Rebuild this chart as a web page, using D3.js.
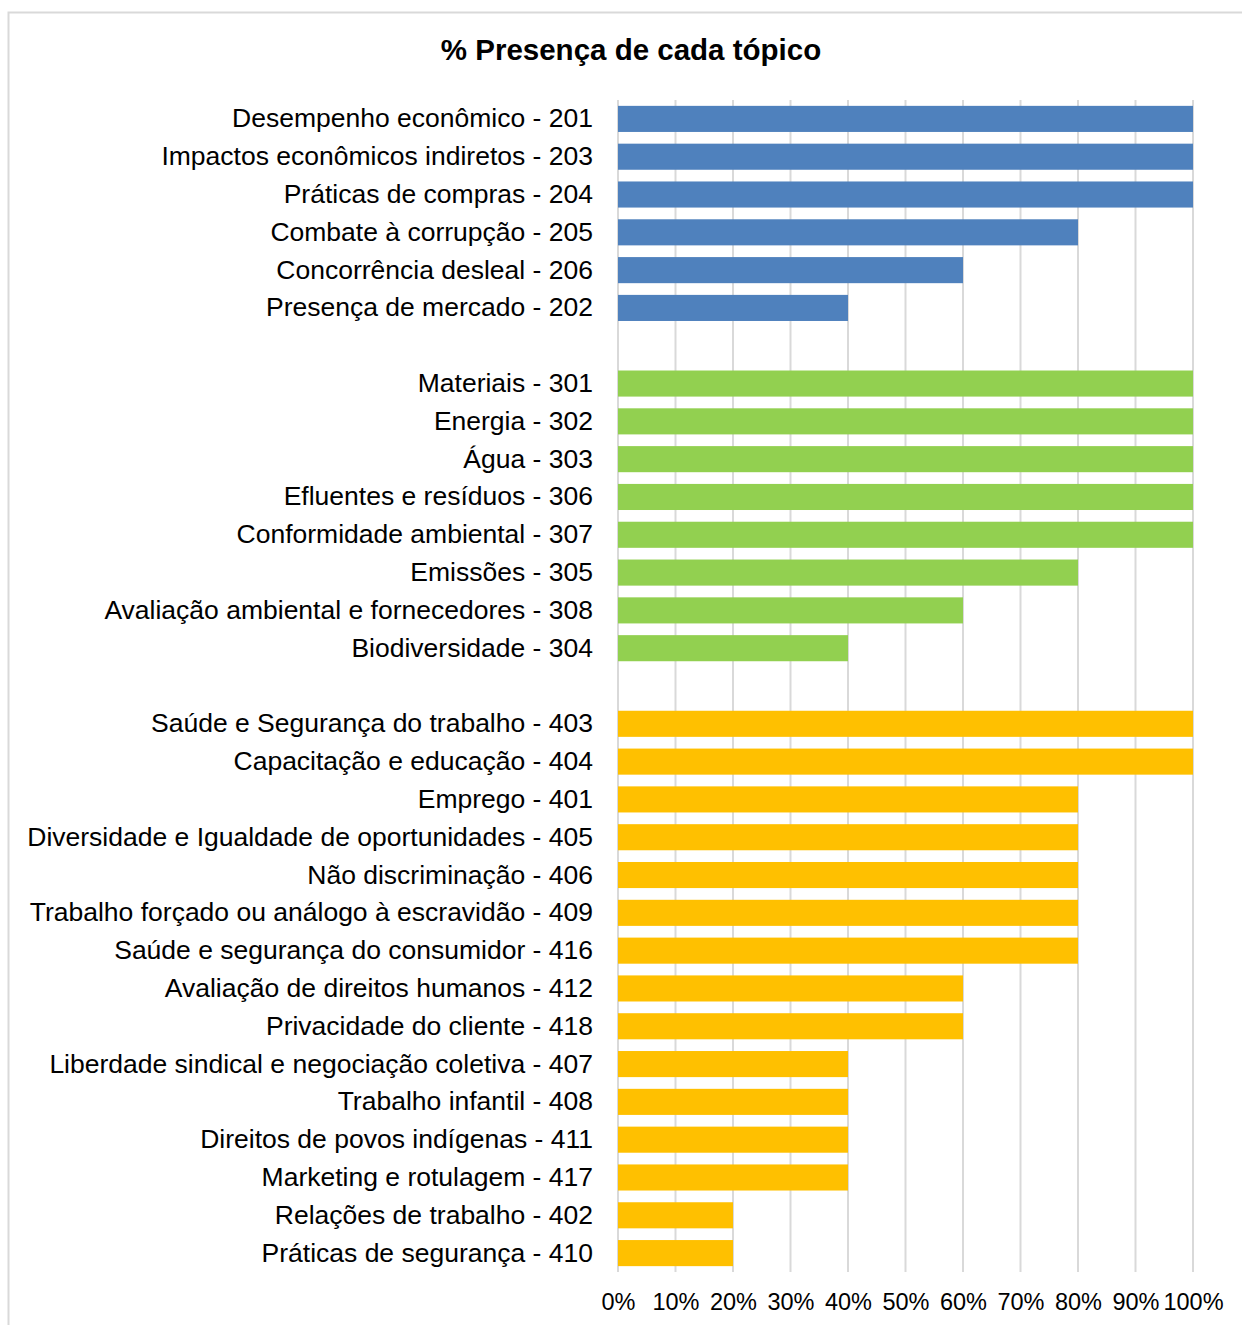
<!DOCTYPE html>
<html>
<head>
<meta charset="utf-8">
<script src="https://cdn.jsdelivr.net/npm/d3@7"></script>
<style>
  body { margin: 0; background: #fff; }
  text { font-family: "Liberation Sans", Arial, sans-serif; fill: #000; }
</style>
</head>
<body>
<div id="container"></div>
<script>
var svgWidth = 1242;
var svgHeight = 1325;

// dados
var economicLabels = ['Desempenho econômico - 201', 'Impactos econômicos indiretos - 203', 'Práticas de compras - 204',
    'Combate à corrupção - 205', 'Concorrência desleal - 206', 'Presença de mercado - 202'];
var economicValues = [100, 100, 100, 80, 60, 40];

var environmentLabels = ['Materiais - 301', 'Energia - 302', 'Água - 303', 'Efluentes e resíduos - 306',
    'Conformidade ambiental - 307', 'Emissões - 305', 'Avaliação ambiental e fornecedores - 308', 'Biodiversidade - 304'];
var environmentValues = [100, 100, 100, 100, 100, 80, 60, 40];

var socialLabels = ['Saúde e Segurança do trabalho - 403', 'Capacitação e educação - 404', 'Emprego - 401',
    'Diversidade e Igualdade de oportunidades - 405', 'Não discriminação - 406', 'Trabalho forçado ou análogo à escravidão - 409',
    'Saúde e segurança do consumidor - 416', 'Avaliação de direitos humanos - 412', 'Privacidade do cliente - 418',
    'Liberdade sindical e negociação coletiva - 407', 'Trabalho infantil - 408', 'Direitos de povos indígenas - 411',
    'Marketing e rotulagem - 417', 'Relações de trabalho - 402', 'Práticas de segurança - 410'];
var socialValues = [100, 100, 80, 80, 80, 80, 80, 60, 60, 40, 40, 40, 40, 20, 20];

var xTicks = [0, 10, 20, 30, 40, 50, 60, 70, 80, 90, 100];

var BLUE = '#4F81BD', GREEN = '#92D050', YELLOW = '#FFC000';

var groups = [
    {labels: economicLabels, values: economicValues, color: BLUE},
    {labels: environmentLabels, values: environmentValues, color: GREEN},
    {labels: socialLabels, values: socialValues, color: YELLOW}
];

var rows = [];
var domain = [];
groups.forEach(function (g, gi) {
    if (gi > 0) {
        domain.push('gap' + gi);
    }
    g.labels.forEach(function (l, i) {
        domain.push(l);
        rows.push({label: l, value: g.values[i], color: g.color});
    });
});

var svg = d3.select('#container').append('svg')
    .attr('width', svgWidth)
    .attr('height', svgHeight);

// moldura
svg.append('rect')
    .attr('x', 8.5)
    .attr('y', 12.5)
    .attr('width', svgWidth + 20)
    .attr('height', svgHeight + 20)
    .style('fill', 'none')
    .style('stroke', '#d9d9d9')
    .style('stroke-width', 2);

svg.append('text')
    .attr('x', 631)
    .attr('y', 60)
    .attr('text-anchor', 'middle')
    .style('font-size', '29.5px')
    .style('font-weight', 'bold')
    .text('% Presença de cada tópico');

var x = d3.scaleLinear().domain([0, 100]).range([618, 1193]);
var y = d3.scaleBand().domain(domain).range([100, 1272]).paddingInner(0.31).paddingOuter(0.155);

// grade
svg.append('g').selectAll('line').data(xTicks)
    .enter().append('line')
    .attr('x1', function (d) { return x(d); })
    .attr('x2', function (d) { return x(d); })
    .attr('y1', 100)
    .attr('y2', 1272)
    .style('stroke', '#d9d9d9')
    .style('stroke-width', 2);

svg.append('g').selectAll('rect').data(rows)
    .enter().append('rect')
    .attr('x', x(0))
    .attr('y', function (d) { return y(d.label); })
    .attr('width', function (d) { return x(d.value) - x(0); })
    .attr('height', y.bandwidth())
    .style('fill', function (d) { return d.color; });

var yAxis = svg.append('g')
    .attr('transform', 'translate(' + x(0) + ',0)')
    .call(d3.axisLeft(y).tickSize(0).tickPadding(25)
        .tickFormat(function (d) { return d.indexOf('gap') === 0 ? '' : d; }));
yAxis.select('.domain').remove();
yAxis.selectAll('text').style('font-size', '26.5px').attr('font-family', null);

var xAxis = svg.append('g')
    .attr('transform', 'translate(0,1272)')
    .call(d3.axisBottom(x).tickValues(xTicks).tickSize(0).tickPadding(21)
        .tickFormat(function (d) { return d + '%'; }));
xAxis.select('.domain').remove();
xAxis.selectAll('text').style('font-size', '23.5px').attr('font-family', null);
</script>
</body>
</html>
